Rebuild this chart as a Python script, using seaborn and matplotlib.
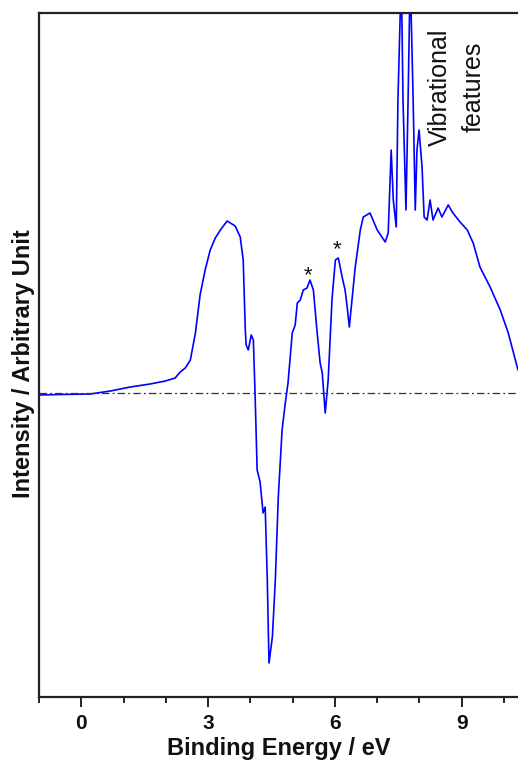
import numpy as np
import pandas as pd
import matplotlib
matplotlib.use("Agg")
import matplotlib.pyplot as plt
import seaborn as sns

# Photoelectron spectrum: binding energy (eV) and intensity (arbitrary units)
energy = [-0.99, -0.50, 0.21, 0.69, 1.16, 1.63, 1.99, 2.22, 2.34, 2.46,
          2.58, 2.70, 2.81, 2.93, 3.05, 3.17, 3.29, 3.45, 3.64, 3.76,
          3.83, 3.88, 3.90, 3.95, 4.02, 4.07, 4.11, 4.16, 4.23, 4.30,
          4.35, 4.40, 4.44, 4.52, 4.59, 4.66, 4.75, 4.82, 4.89, 4.99,
          5.06, 5.11, 5.18, 5.25, 5.34, 5.41, 5.49, 5.58, 5.65, 5.70,
          5.77, 5.84, 5.93, 6.01, 6.08, 6.17, 6.24, 6.29, 6.34, 6.41,
          6.48, 6.60, 6.67, 6.83, 7.00, 7.19, 7.26, 7.33, 7.38, 7.45,
          7.49, 7.57, 7.61, 7.68, 7.73, 7.78, 7.85, 7.90, 7.94, 7.99,
          8.06, 8.11, 8.18, 8.25, 8.32, 8.44, 8.53, 8.68, 8.79, 8.96,
          9.13, 9.27, 9.43, 9.67, 9.91, 10.10, 10.33]
intensity = [-2, -1.5, -1, 2, 6, 9, 12, 15, 21, 25,
             33, 60, 98, 123, 143, 155, 163, 172, 167, 156,
             133, 63, 48, 43, 58, 53, 0, -77, -89, -120,
             -114, -187, -270, -244, -187, -104, -37, -12, 10, 60,
             68, 90, 93, 103, 105, 113, 103, 60, 30, 20,
             -20, 13, 93, 133, 135, 116, 103, 86, 66, 96,
             126, 163, 176, 180, 163, 151, 160, 243, 193, 166,
             293, 420, 293, 183, 293, 420, 293, 183, 243, 263,
             226, 176, 173, 193, 173, 185, 176, 188, 180, 171,
             163, 150, 126, 106, 83, 60, 23]

x_ticks = [0, 3, 6, 9]
x_minor_ticks = [-1, 1, 2, 4, 5, 7, 8, 10]
star_energy = [5.37, 6.05]
star_height = [112, 138]

df = pd.DataFrame({"Binding Energy": energy, "Intensity": intensity})

sns.set_style("ticks")
plt.rcParams["font.family"] = ["Liberation Sans", "DejaVu Sans"]

fig = plt.figure(figsize=(5.18, 7.61), dpi=100)
ax = fig.add_axes([39 / 518, 1 - 697 / 761, 1 - 39 / 518, (697 - 13) / 761])

sns.lineplot(data=df, x="Binding Energy", y="Intensity", ax=ax,
             color="#0000ff", lw=1.2, sort=False, estimator=None)
ax.axhline(0, color="#333333", lw=0.9, linestyle=(0, (6, 2.5, 1.5, 2.5)))

ax.set_xlim(-1.0, 10.33)
ax.set_ylim(-304, 380)

ax.set_xticks(x_ticks)
ax.set_xticks(x_minor_ticks, minor=True)
ax.set_yticks([])
ax.tick_params(axis="x", which="major", length=7, width=1.4, direction="out",
               labelsize=15, pad=5, colors="#222222")
ax.tick_params(axis="x", which="minor", length=4.5, width=1.4, direction="out",
               colors="#222222")
for lab in ax.get_xticklabels():
    lab.set_fontweight("bold")
    lab.set_color("#111111")

for side in ["left", "top", "bottom"]:
    ax.spines[side].set_linewidth(1.6)
    ax.spines[side].set_color("#222222")
ax.spines["right"].set_visible(False)

ax.set_xlabel("Binding Energy / eV", fontsize=17, fontweight="bold", labelpad=3,
              color="#111111")
ax.set_ylabel("Intensity / Arbitrary Unit", fontsize=17, fontweight="bold",
              color="#111111")
ax.yaxis.set_label_coords(-0.008, 0.487)

for e, h in zip(star_energy, star_height):
    ax.text(e, h, "*", ha="center", va="baseline", fontsize=16, color="#111111")

ax.text(8.88, 306, "Vibrational\nfeatures", rotation=90, ha="center", va="center",
        multialignment="center", fontsize=18, linespacing=1.55, color="#111111")

fig.savefig("out.png", dpi=100)
